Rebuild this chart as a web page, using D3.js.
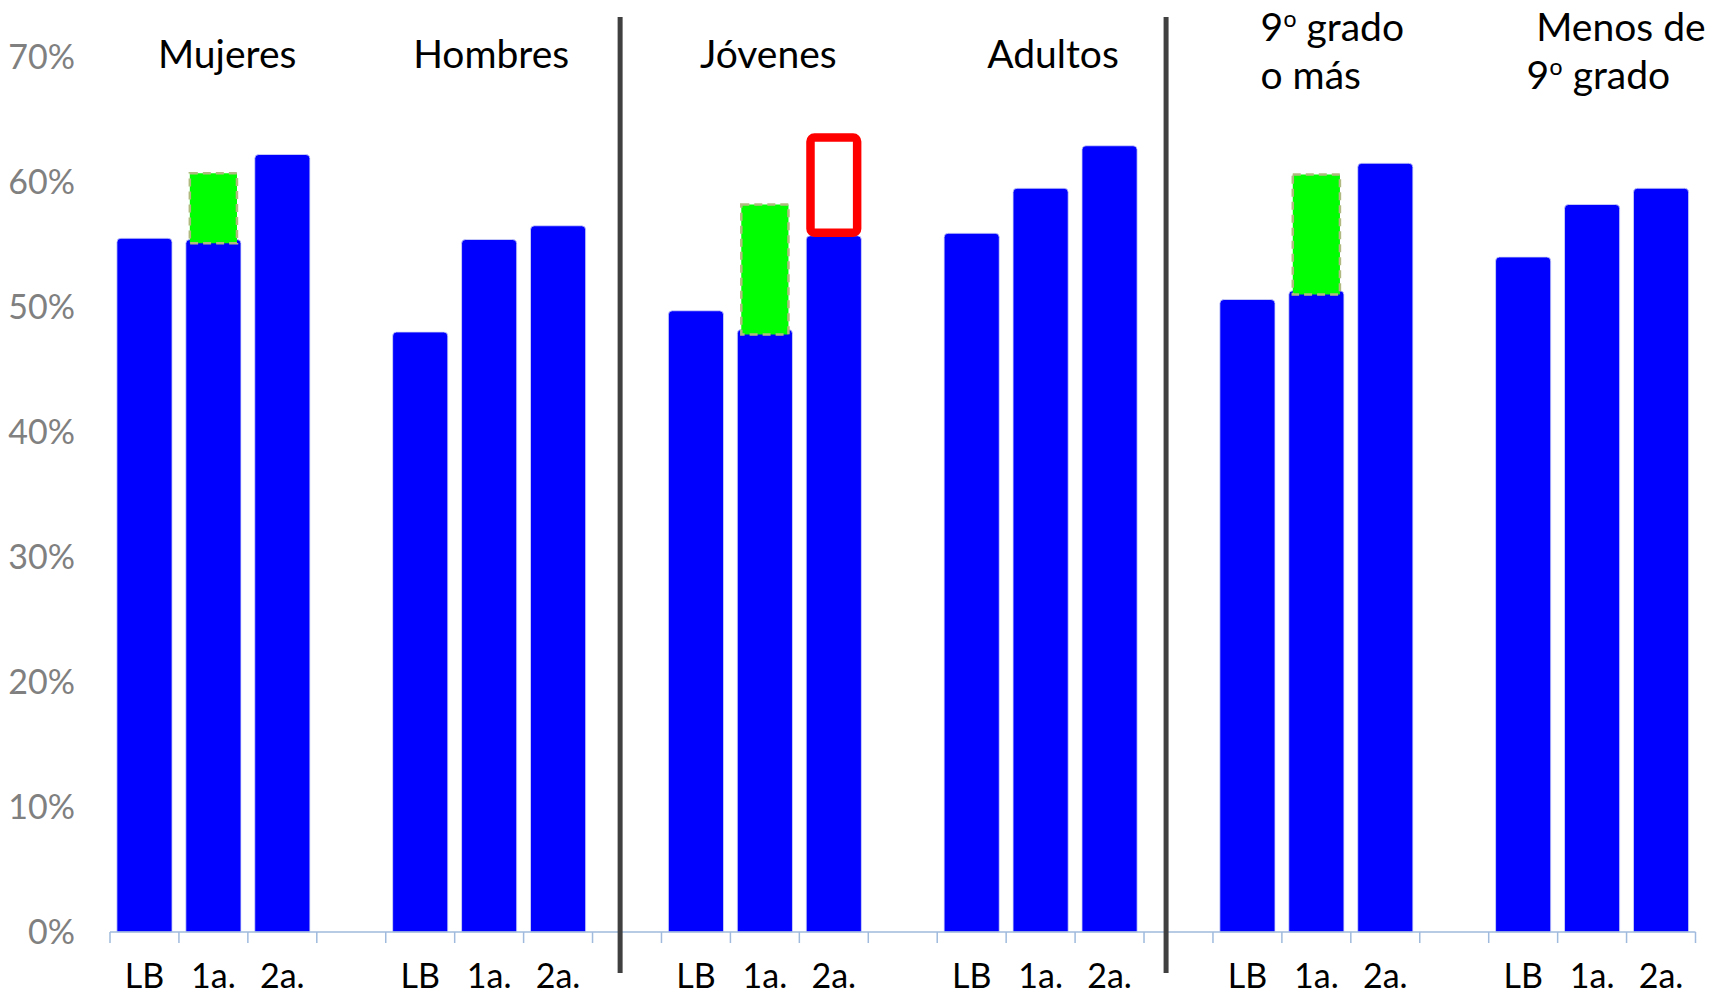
<!DOCTYPE html>
<html>
<head>
<meta charset="utf-8">
<script src="https://cdn.jsdelivr.net/npm/d3@7"></script>
<style>
  html, body { margin: 0; padding: 0; background: #fff; }
  svg { display: block; }
  text { font-family: Lato, "Open Sans", sans-serif; }
</style>
</head>
<body>
<svg id="chart" width="1711" height="996"></svg>
<script>
// ---- data ----
const groups = ["Mujeres", "Hombres", "Jóvenes", "Adultos", "9º grado o más", "Menos de 9º grado"];
const rounds = ["LB", "1a.", "2a."];
const lbValues     = [55.5, 48.0, 49.7, 55.9, 50.6, 54.0];
const firstValues  = [55.4, 55.4, 48.2, 59.5, 51.3, 58.2];
const secondValues = [62.2, 56.5, 55.7, 62.9, 61.5, 59.5];
// green dashed boxes on the "1a." bars (low, high); null = none
const greenLow  = [55.1, null, 47.8, null, 51.0, null];
const greenHigh = [60.7, null, 58.2, null, 60.6, null];
// red outlined box on the "2a." bar of Jóvenes
const redGroup = 2, redLow = 55.6, redHigh = 63.9;
const yTicks = [0, 10, 20, 30, 40, 50, 60, 70];
// group header lines and their horizontal offset (in band steps) from the "1a." slot
const headerLines = [["Mujeres"], ["Hombres"], ["Jóvenes"], ["Adultos"], ["9º grado", "o más"], ["Menos de", "9º grado"]];
const headerAnchor = ["middle", "middle", "middle", "middle", "start", "start"];
const headerOffset = [[0.2], [0.03], [0.05], [0.18], [-0.81, -0.81], [-0.81, -0.95]];
const dividerAfterGroup = [1, 3];
const dividerOffset = [0.4, 0.32];

// ---- build slots: 3 bars per group + empty gap between groups ----
const slots = [];
groups.forEach((g, gi) => {
  const vals = [lbValues[gi], firstValues[gi], secondValues[gi]];
  rounds.forEach((r, ri) => slots.push({ id: gi + "-" + ri, group: gi, round: r, value: vals[ri] }));
  if (gi < groups.length - 1) slots.push({ id: "gap" + gi, group: gi, round: null, value: null });
});

const svg = d3.select("#chart");
const x = d3.scaleBand().domain(slots.map(s => s.id)).range([110, 1695.5]).paddingInner(0.2).paddingOuter(0.1);
const y = d3.scaleLinear().domain([0, 70]).range([932, 57]);
const step = x.step();
const bw = x.bandwidth();
const slotStart = id => x(id) - step * 0.1;

// bars with rounded top corners
function topRounded(x0, y0, w, h, r) {
  return `M${x0},${y0 + h}V${y0 + r}Q${x0},${y0} ${x0 + r},${y0}H${x0 + w - r}Q${x0 + w},${y0} ${x0 + w},${y0 + r}V${y0 + h}Z`;
}
const barData = slots.filter(s => s.value !== null);
svg.append("g").selectAll("path").data(barData).join("path")
  .attr("d", d => topRounded(x(d.id), y(d.value), bw, y(0) - y(d.value), 4))
  .attr("fill", "#0000FF")
  .attr("stroke", "#d6dbf5")
  .attr("stroke-width", 0.8);

// green dashed boxes
const greenData = groups.map((g, gi) => ({ gi, lo: greenLow[gi], hi: greenHigh[gi] })).filter(d => d.lo !== null);
svg.append("g").selectAll("rect").data(greenData).join("rect")
  .attr("x", d => x(d.gi + "-1") + 4)
  .attr("width", bw - 8)
  .attr("y", d => y(d.hi))
  .attr("height", d => y(d.lo) - y(d.hi))
  .attr("fill", "#00FF00")
  .attr("stroke", "#b0ba80")
  .attr("stroke-width", 2.5)
  .attr("stroke-dasharray", "8,5");

// red box
const sw = 8.5;
svg.append("rect")
  .attr("x", x(redGroup + "-2") + sw / 2)
  .attr("width", bw - sw)
  .attr("y", y(redHigh) + sw / 2)
  .attr("height", y(redLow) - y(redHigh) - sw)
  .attr("rx", 4)
  .attr("fill", "#fff")
  .attr("stroke", "#FF0000")
  .attr("stroke-width", sw);

// x axis line and ticks at slot boundaries
const axisG = svg.append("g");
const bounds = slots.map(s => slotStart(s.id)).concat([slotStart(slots[slots.length - 1].id) + step]);
axisG.append("line")
  .attr("x1", bounds[0]).attr("x2", bounds[bounds.length - 1])
  .attr("y1", y(0)).attr("y2", y(0))
  .attr("stroke", "#9fbadd").attr("stroke-width", 1.5);
axisG.selectAll("line.tick").data(bounds).join("line").attr("class", "tick")
  .attr("x1", d => d).attr("x2", d => d)
  .attr("y1", y(0)).attr("y2", y(0) + 11)
  .attr("stroke", "#9fbadd").attr("stroke-width", 1.5);

// x labels
svg.append("g").selectAll("text").data(barData).join("text")
  .attr("x", d => x(d.id) + bw / 2)
  .attr("y", 988)
  .attr("text-anchor", "middle")
  .attr("font-size", 34)
  .attr("fill", "#000")
  .text(d => d.round);

// y tick labels
svg.append("g").selectAll("text").data(yTicks).join("text")
  .attr("x", 75)
  .attr("y", d => y(d) + 12)
  .attr("text-anchor", "end")
  .attr("font-size", 34)
  .attr("fill", "#808080")
  .text(d => d + "%");

// dividers
svg.append("g").selectAll("line").data(dividerAfterGroup).join("line")
  .attr("x1", (d, i) => slotStart("gap" + d) + dividerOffset[i] * step)
  .attr("x2", (d, i) => slotStart("gap" + d) + dividerOffset[i] * step)
  .attr("y1", y(70) - 40)
  .attr("y2", y(0) + 41)
  .attr("stroke", "#404040")
  .attr("stroke-width", 5);

// group headers (ordinal indicator drawn with a font that underlines it)
const headerG = svg.append("g");
groups.forEach((g, gi) => {
  const lines = headerLines[gi];
  const base = x(gi + "-1") + bw / 2;
  lines.forEach((ln, li) => {
    const baselineY = lines.length === 1 ? 68 : (li === 0 ? 41 : 89);
    const t = headerG.append("text")
      .attr("x", base + headerOffset[gi][li] * step)
      .attr("y", baselineY)
      .attr("text-anchor", headerAnchor[gi])
      .attr("font-size", 39)
      .attr("fill", "#000");
    ln.split(/(º)/).filter(p => p.length).forEach(p => {
      const ts = t.append("tspan").text(p);
      if (p === "º") ts.style("font-family", "'Open Sans', 'DejaVu Sans', sans-serif").attr("font-size", 36);
    });
  });
});
</script>
</body>
</html>
